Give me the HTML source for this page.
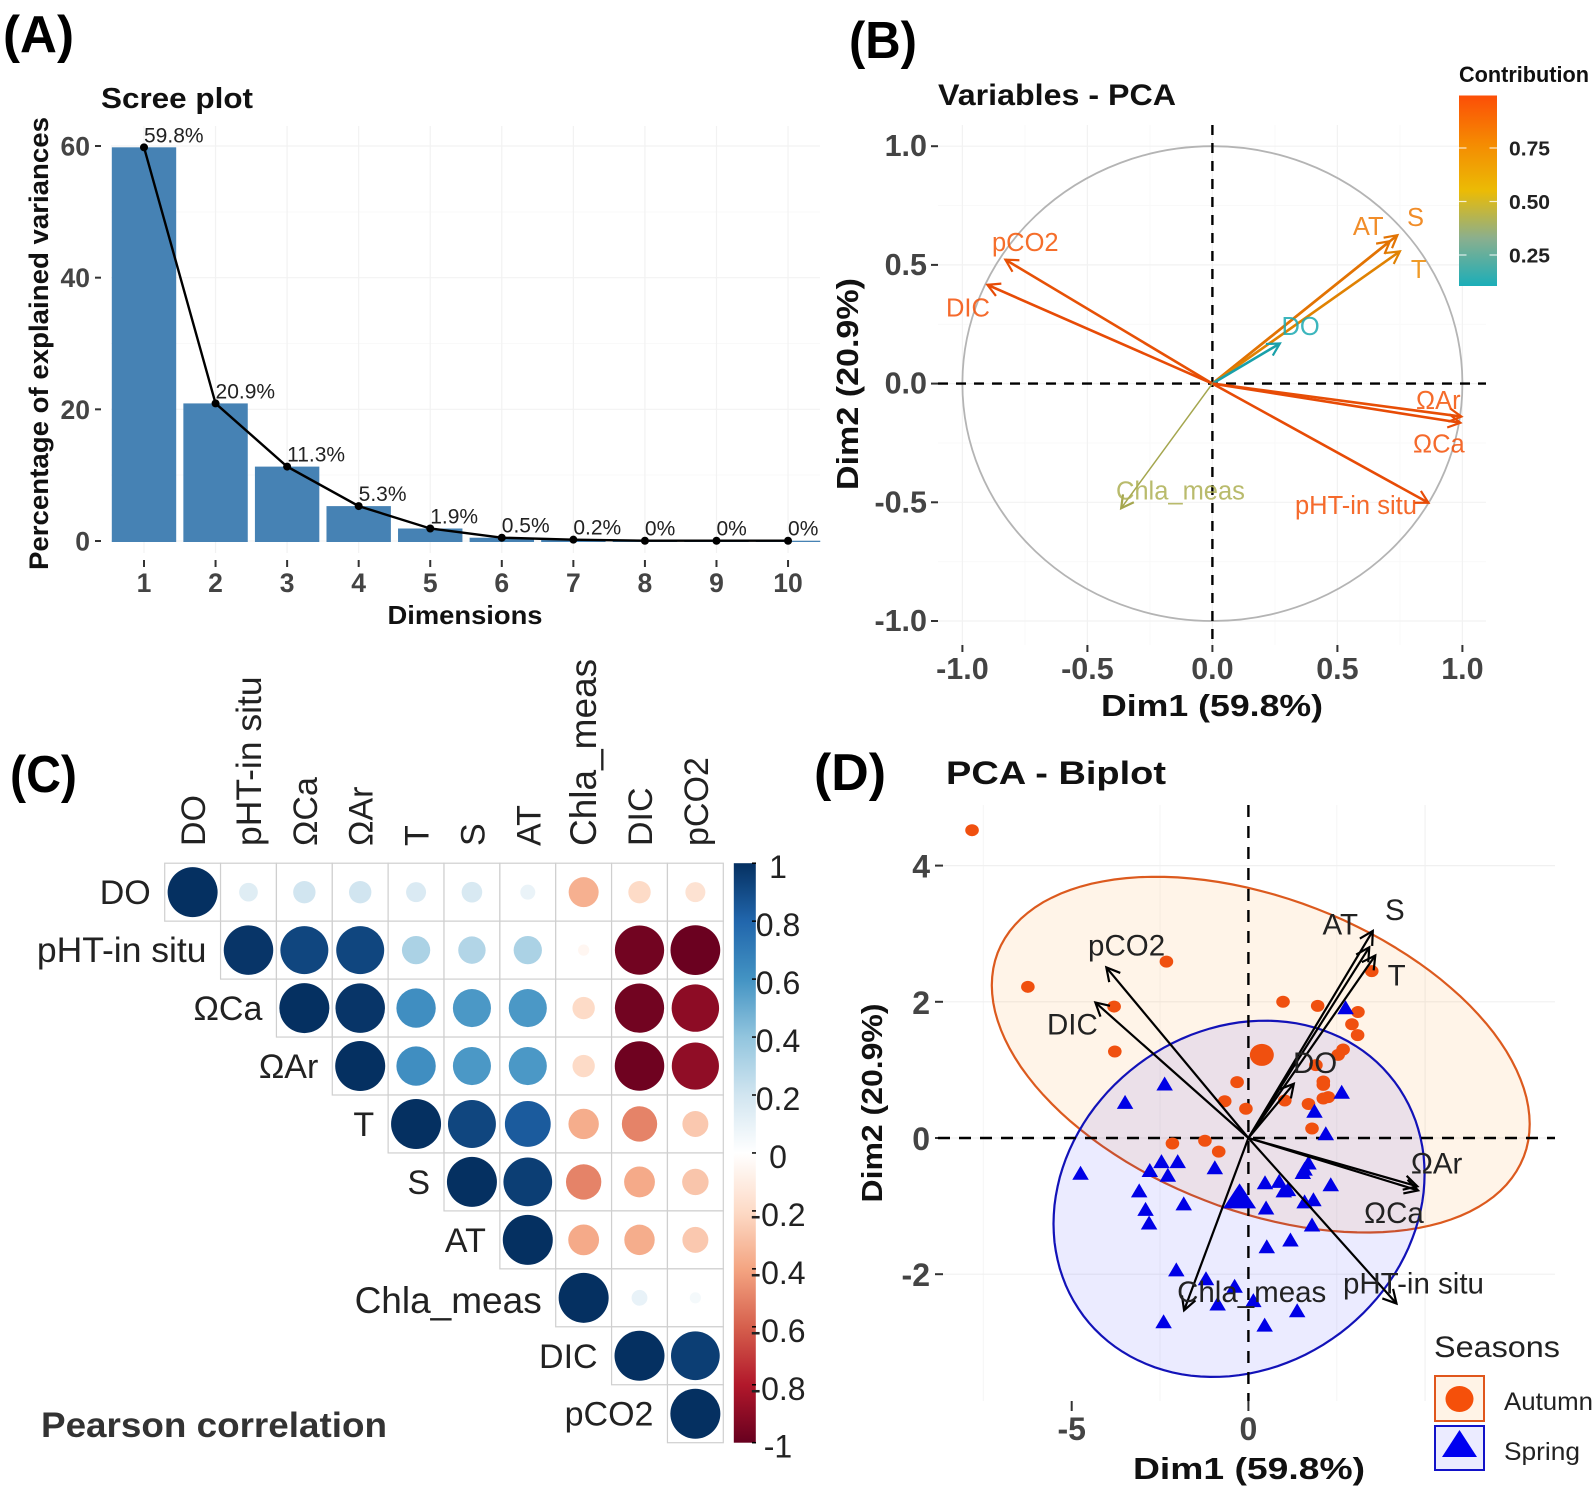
<!DOCTYPE html>
<html lang="en">
<head>
<meta charset="utf-8">
<title>PCA and correlation panels</title>
<style>
html,body{margin:0;padding:0;background:#fff;}
svg{display:block;font-family:"Liberation Sans",sans-serif;}
</style>
</head>
<body>
<svg id="fig" xmlns="http://www.w3.org/2000/svg" width="1594" height="1490" viewBox="0 0 1594 1490">
<defs>
<linearGradient id="contrib-gradient" x1="0" y1="1" x2="0" y2="0">
<stop offset="0" stop-color="#1BAEB8"/><stop offset="0.25" stop-color="#8AAF8E"/><stop offset="0.5" stop-color="#EBBB05"/><stop offset="0.75" stop-color="#F58A02"/><stop offset="1" stop-color="#FC4E07"/>
</linearGradient>
<linearGradient id="corr-gradient" x1="0" y1="0" x2="0" y2="1"></linearGradient>
</defs>
<rect width="1594" height="1490" fill="#fff"/>
<g id="pa"></g>
<g id="pb"></g>
<g id="pc"></g>
<g id="pd"></g>

<text x="3" y="52" font-size="52" font-weight="700" fill="#000" textLength="71" lengthAdjust="spacingAndGlyphs">(A)</text>
<text x="101" y="108" font-size="29" font-weight="700" fill="#111" textLength="152" lengthAdjust="spacingAndGlyphs">Scree plot</text>
<text transform="translate(48 343.5) rotate(-90)" text-anchor="middle" font-size="27" font-weight="700" fill="#111" textLength="453" lengthAdjust="spacingAndGlyphs">Percentage of explained variances</text>
<text x="465" y="624" text-anchor="middle" font-size="26" font-weight="700" fill="#111" textLength="155" lengthAdjust="spacingAndGlyphs">Dimensions</text>

<text x="849" y="58" font-size="52" font-weight="700" fill="#000" textLength="68" lengthAdjust="spacingAndGlyphs">(B)</text>
<text x="938" y="105" font-size="30" font-weight="700" fill="#111" textLength="238" lengthAdjust="spacingAndGlyphs">Variables - PCA</text>
<text x="1212" y="716" text-anchor="middle" font-size="31" font-weight="700" fill="#111" textLength="222" lengthAdjust="spacingAndGlyphs">Dim1 (59.8%)</text>
<text transform="translate(858 384) rotate(-90)" text-anchor="middle" font-size="31" font-weight="700" fill="#111" textLength="212" lengthAdjust="spacingAndGlyphs">Dim2 (20.9%)</text>
<text x="1459" y="82" font-size="22" font-weight="700" fill="#111" textLength="130" lengthAdjust="spacingAndGlyphs">Contribution</text>

<text x="10" y="792" font-size="52" font-weight="700" fill="#000" textLength="67" lengthAdjust="spacingAndGlyphs">(C)</text>
<text x="41" y="1437" font-size="35" font-weight="700" fill="#333" textLength="346" lengthAdjust="spacingAndGlyphs">Pearson correlation</text>

<text x="814" y="790" font-size="52" font-weight="700" fill="#000" textLength="72" lengthAdjust="spacingAndGlyphs">(D)</text>
<text x="946" y="784" font-size="32" font-weight="700" fill="#111" textLength="220" lengthAdjust="spacingAndGlyphs">PCA - Biplot</text>
<text x="1249" y="1479" text-anchor="middle" font-size="31" font-weight="700" fill="#111" textLength="232" lengthAdjust="spacingAndGlyphs">Dim1 (59.8%)</text>
<text transform="translate(882 1103) rotate(-90)" text-anchor="middle" font-size="29" font-weight="700" fill="#111" textLength="199" lengthAdjust="spacingAndGlyphs">Dim2 (20.9%)</text>

<text x="1434" y="1357" font-size="30" fill="#222" textLength="126" lengthAdjust="spacingAndGlyphs">Seasons</text>
<rect x="1435" y="1376" width="49" height="45" fill="#FFF3E6" stroke="#E0561C" stroke-width="2"/>
<ellipse cx="1459.5" cy="1399" rx="14" ry="13" fill="#F5500A"/>
<text x="1504" y="1410" font-size="25" fill="#222" textLength="89" lengthAdjust="spacingAndGlyphs">Autumn</text>
<rect x="1435" y="1426" width="49" height="44" fill="#EBEBFF" stroke="#1212C8" stroke-width="2"/>
<polygon points="1459.5,1430 1477,1457 1442,1457" fill="#0000F0"/>
<text x="1504" y="1460" font-size="25" fill="#222" textLength="76" lengthAdjust="spacingAndGlyphs">Spring</text>
</svg>

<script>
/* ---------- Scree data ---------- */
const screeDims = [1, 2, 3, 4, 5, 6, 7, 8, 9, 10];
const screeValues = [59.8, 20.9, 11.3, 5.3, 1.9, 0.5, 0.2, 0.04, 0.04, 0.04];
const screeLabels = ['59.8%', '20.9%', '11.3%', '5.3%', '1.9%', '0.5%', '0.2%', '0%', '0%', '0%'];
const screeYTicks = [0, 20, 40, 60];

/* ---------- Variables PCA data ---------- */
const varNames = ['pCO2', 'DIC', 'S', 'AT', 'T', 'DO', 'ΩAr', 'ΩCa', 'pHT-in situ', 'Chla_meas'];
const varDim1 = [-0.828, -0.90, 0.74, 0.71, 0.75, 0.27, 0.996, 0.992, 0.864, -0.365];
const varDim2 = [0.522, 0.416, 0.625, 0.60, 0.557, 0.169, -0.139, -0.165, -0.502, -0.525];
const varContrib = [0.96, 0.98, 0.82, 0.82, 0.76, 0.10, 0.97, 0.98, 0.98, 0.42];
const varTicks = [-1, -0.5, 0, 0.5, 1];
const varTickLabels = ['-1.0', '-0.5', '0.0', '0.5', '1.0'];
const contribTicks = [0.25, 0.5, 0.75];
const contribTickLabels = ['0.25', '0.50', '0.75'];

/* ---------- Correlation data (upper triangle by row) ---------- */
const corrNames = ['DO', 'pHT-in situ', 'ΩCa', 'ΩAr', 'T', 'S', 'AT', 'Chla_meas', 'DIC', 'pCO2'];
const corrDO = [1, 0.14, 0.2, 0.2, 0.16, 0.17, 0.09, -0.36, -0.2, -0.16];
const corrPHT = [0.98, 0.92, 0.92, 0.32, 0.3, 0.32, -0.05, -0.97, -0.99];
const corrCa = [1, 0.98, 0.62, 0.58, 0.58, -0.2, -0.97, -0.9];
const corrAr = [1, 0.62, 0.58, 0.58, -0.2, -0.98, -0.89];
const corrT = [1, 0.92, 0.84, -0.37, -0.5, -0.27];
const corrS = [1, 0.95, -0.5, -0.38, -0.28];
const corrAT = [1, -0.38, -0.37, -0.27];
const corrChla = [1, 0.1, 0.05];
const corrDIC = [1, 0.95];
const corrPCO2 = [1];
const corrRows = [corrDO, corrPHT, corrCa, corrAr, corrT, corrS, corrAT, corrChla, corrDIC, corrPCO2];
const corrPalette = ['#67001F', '#B2182B', '#D6604D', '#F4A582', '#FDDBC7', '#FFFFFF', '#D1E5F0', '#92C5DE', '#4393C3', '#2166AC', '#053061'];
const corrLegendTicks = [1, 0.8, 0.6, 0.4, 0.2, 0, -0.2, -0.4, -0.6, -0.8, -1];
const corrLegendLabels = ['1', '0.8', '0.6', '0.4', '0.2', '0', '-0.2', '-0.4', '-0.6', '-0.8', '-1'];

/* ---------- Biplot data ---------- */
const autumnX = [-7.82, -6.24, -2.32, -3.80, -3.78, 0.98, 1.96, 3.10, 2.93, 3.09, 3.49, 2.68, 2.54, 2.12, 2.12, 2.26, 1.70, 1.03, -0.32, -0.67, -0.07, 1.80, -2.15, -1.23, -0.84, 1.91, 2.12];
const autumnY = [4.52, 2.22, 2.59, 1.93, 1.27, 2.00, 1.94, 1.85, 1.67, 1.51, 2.45, 1.30, 1.22, 0.83, 0.58, 0.60, 0.50, 0.55, 0.82, 0.54, 0.43, 0.14, -0.08, -0.04, -0.20, 1.07, 0.78];
const springX = [2.75, -2.37, -3.49, 2.64, 1.87, 2.19, -4.75, -2.46, -2.0, -2.79, -2.28, -0.95, 1.70, 1.59, 1.54, 0.47, 0.87, 1.0, 1.12, 2.33, 1.84, 1.59, -3.09, -1.83, -2.91, -2.81, 0.50, 1.80, 0.52, 1.19, -2.04, -1.20, -0.39, -0.87, 0.14, 1.38, -2.40, 0.46];
const springY = [1.92, 0.80, 0.53, 0.68, 0.40, 0.07, -0.51, -0.34, -0.34, -0.47, -0.54, -0.43, -0.36, -0.45, -0.50, -0.65, -0.63, -0.77, -0.75, -0.68, -0.90, -0.93, -0.77, -0.96, -1.04, -1.24, -1.02, -1.27, -1.59, -1.49, -1.93, -2.06, -2.17, -2.43, -2.38, -2.53, -2.69, -2.74];
const autumnMean = [0.38, 1.22];
const springMean = [-0.25, -0.85];
const autumnEllipse = [0.35, 1.224, 7.61, 2.612, -0.39];
const springEllipse = [-0.265, -0.893, 5.25, 2.616, 0.14];
const biNames = ['pCO2', 'DIC', 'S', 'AT', 'T', 'DO', 'ΩAr', 'ΩCa', 'pHT-in situ', 'Chla_meas'];
const biDim1 = [-4.02, -4.33, 3.52, 3.42, 3.59, 1.285, 4.78, 4.80, 4.19, -1.82];
const biDim2 = [2.505, 1.99, 3.04, 2.80, 2.68, 0.797, -0.71, -0.77, -2.43, -2.53];
const biXTicks = [-5, 0];
const biYTicks = [-2, 0, 2, 4];

/* ---------- Helpers ---------- */
const NS = 'http://www.w3.org/2000/svg';
function mk(parent, tag, attrs, text) {
  const el = document.createElementNS(NS, tag);
  for (const k in attrs) el.setAttribute(k, attrs[k]);
  if (text !== undefined) el.textContent = text;
  parent.appendChild(el);
  return el;
}
function slug(s) {
  return s.toLowerCase().replace('ω', 'omega-').replace(/[^a-z0-9]+/g, '-');
}
function arrowHead(x1, y1, x2, y2, len) {
  const a = Math.atan2(y2 - y1, x2 - x1);
  const p1 = [x2 - len * Math.cos(a - 0.5), y2 - len * Math.sin(a - 0.5)];
  const p2 = [x2 - len * Math.cos(a + 0.5), y2 - len * Math.sin(a + 0.5)];
  return 'M' + p1[0] + ' ' + p1[1] + 'L' + x2 + ' ' + y2 + 'L' + p2[0] + ' ' + p2[1];
}

/* ---------- Panel A: scree ---------- */
(function () {
  const g = document.getElementById('pa');
  const xA = d => 144 + (d - 1) * 71.56;
  const yA = v => 541 - v * (395 / 60);
  const barW = 64.4;
  [10, 30, 50].forEach(v => {
    const l = mk(g, 'line', { x1: 111, x2: 820, y1: yA(v), y2: yA(v), stroke: '#f9f9f9', 'stroke-width': 1 });
    
    
  });
  screeYTicks.forEach(v => {
    const l = mk(g, 'line', { x1: 111, x2: 820, y1: yA(v), y2: yA(v), stroke: '#f2f2f2', 'stroke-width': 1.2 });
    
    
    const t = mk(g, 'line', { x1: 95, x2: 101, y1: yA(v), y2: yA(v), stroke: '#333', 'stroke-width': 2 });
    
    
    const lab = mk(g, 'text', { x: 90, y: yA(v) + 9.5, 'text-anchor': 'end', 'font-size': 26.5, 'font-weight': 700, fill: '#444' }, String(v));
    
    
  });
  screeDims.forEach(d => {
    const l = mk(g, 'line', { x1: xA(d), x2: xA(d), y1: 126, y2: 553, stroke: '#f2f2f2', 'stroke-width': 1.2 });
    
    
  });
  screeValues.forEach((v, i) => {
    const b = mk(g, 'rect', { x: xA(screeDims[i]) - barW / 2, y: yA(v), width: barW, height: 541 - yA(v) + 1, fill: '#4682B4' });
    
    
  });
  const pts = screeValues.map((v, i) => xA(screeDims[i]) + ',' + yA(v)).join(' ');
  const line = mk(g, 'polyline', { points: pts, fill: 'none', stroke: '#000', 'stroke-width': 2.4 });
  
  
  screeValues.forEach((v, i) => {
    const c = mk(g, 'circle', { cx: xA(screeDims[i]), cy: yA(v), r: 4, fill: '#000' });
    
    
    const lab = mk(g, 'text', { x: xA(screeDims[i]), y: yA(v) - 5, 'font-size': 21, fill: '#222' }, screeLabels[i]);
    
    
    const t = mk(g, 'line', { x1: xA(screeDims[i]), x2: xA(screeDims[i]), y1: 560, y2: 567, stroke: '#333', 'stroke-width': 2 });
    
    
    const xl = mk(g, 'text', { x: xA(screeDims[i]), y: 592, 'text-anchor': 'middle', 'font-size': 26.5, 'font-weight': 700, fill: '#444' }, String(screeDims[i]));
    
    
  });
})();

/* ---------- Panel B: variables ---------- */
(function () {
  const g = document.getElementById('pb');
  const xB = v => 1212.4 + v * 250;
  const yB = v => 383.6 - v * 237.4;
  function lerpColor(t) {
    const stops = [[27, 174, 184], [138, 175, 142], [235, 187, 5], [245, 138, 2], [252, 78, 7]];
    const low = 0.105, high = 0.996;
    const p = Math.max(0, Math.min(0.9999, (t - low) / (high - low))) * (stops.length - 1);
    const i = Math.floor(p), f = p - i;
    return stops[i].map((c, k) => Math.round(c + (stops[i + 1][k] - c) * f));
  }
  const css = (c, m) => 'rgb(' + c.map(v => Math.round(v * m)).join(',') + ')';
  [-0.75, -0.25, 0.25, 0.75].forEach(v => {
    const h = mk(g, 'line', { x1: 938, x2: 1486, y1: yB(v), y2: yB(v), stroke: '#f9f9f9', 'stroke-width': 1 });
    
    
    const w = mk(g, 'line', { x1: xB(v), x2: xB(v), y1: 125, y2: 645, stroke: '#f9f9f9', 'stroke-width': 1 });
    
    
  });
  varTicks.forEach((v, i) => {
    const h = mk(g, 'line', { x1: 938, x2: 1486, y1: yB(v), y2: yB(v), stroke: '#f2f2f2', 'stroke-width': 1.2 });
    
    
    const w = mk(g, 'line', { x1: xB(v), x2: xB(v), y1: 125, y2: 645, stroke: '#f2f2f2', 'stroke-width': 1.2 });
    
    
    const yt = mk(g, 'line', { x1: 931, x2: 938, y1: yB(v), y2: yB(v), stroke: '#333', 'stroke-width': 2 });
    
    
    const xt = mk(g, 'line', { x1: xB(v), x2: xB(v), y1: 645, y2: 652, stroke: '#333', 'stroke-width': 2 });
    
    
    const yl = mk(g, 'text', { x: 927, y: yB(v) + 10, 'text-anchor': 'end', 'font-size': 30.5, 'font-weight': 700, fill: '#444' }, varTickLabels[i]);
    
    
    const xl = mk(g, 'text', { x: xB(v), y: 679, 'text-anchor': 'middle', 'font-size': 30.5, 'font-weight': 700, fill: '#444' }, varTickLabels[i]);
    
    
  });
  const circle = mk(g, 'ellipse', { cx: xB(0), cy: yB(0), rx: 250, ry: 237.4, fill: 'none', stroke: '#b4b4b4', 'stroke-width': 1.8 });
  
  
  const dh = mk(g, 'line', { x1: 938, x2: 1486, y1: yB(0), y2: yB(0), stroke: '#000', 'stroke-width': 2.4, 'stroke-dasharray': '10 8' });
  
  
  const dv = mk(g, 'line', { x1: xB(0), x2: xB(0), y1: 125, y2: 645, stroke: '#000', 'stroke-width': 2.4, 'stroke-dasharray': '10 8' });
  
  
  const nudge = { 'pCO2': [-13.4, -8.7], 'DIC': [-41.4, 31.8], 'S': [9.6, -9.2], 'AT': [-37, -6], 'T': [11, 26.6], 'DO': [1.6, -8.5], 'ΩAr': [-45.4, -7.6], 'ΩCa': [-47.4, 29.7], 'pHT-in situ': [-133.4, 11.2], 'Chla_meas': [-5.2, -8.7] };
  varNames.forEach((n, i) => {
    const base = lerpColor(varContrib[i]);
    const col = css(base, 0.92);
    const x2 = xB(varDim1[i]), y2 = yB(varDim2[i]);
    const s = mk(g, 'line', { x1: xB(0), y1: yB(0), x2: x2, y2: y2, stroke: col, 'stroke-width': n === 'Chla_meas' ? 1.5 : 2.6 });
    
    
    const h = mk(g, 'path', { d: arrowHead(xB(0), yB(0), x2, y2, 14), fill: 'none', stroke: col, 'stroke-width': 2.2 });
    
    
    const nd = nudge[n];
    const t = mk(g, 'text', { x: x2 + nd[0], y: y2 + nd[1], 'font-size': 25.5, fill: css(base, 0.97), 'fill-opacity': 0.85 }, n);
    
    
  });
  const bar = mk(g, 'rect', { x: 1459, y: 95.5, width: 38, height: 190.5, fill: 'url(#contrib-gradient)' });
  
  
  const yC = v => 255 - (v - 0.25) * 214;
  contribTicks.forEach((v, i) => {
    const a = mk(g, 'line', { x1: 1459, x2: 1466.5, y1: yC(v), y2: yC(v), stroke: '#fff', 'stroke-width': 1.2, 'stroke-opacity': 0.8 });
    
    
    const b = mk(g, 'line', { x1: 1489.5, x2: 1497, y1: yC(v), y2: yC(v), stroke: '#fff', 'stroke-width': 1.2, 'stroke-opacity': 0.8 });
    
    
    const t = mk(g, 'text', { x: 1509, y: yC(v) + 7.5, 'font-size': 20, 'font-weight': 700, fill: '#222', textLength: 41, lengthAdjust: 'spacingAndGlyphs' }, contribTickLabels[i]);
    
    
  });
})();

/* ---------- Panel C: correlation ---------- */
(function () {
  const g = document.getElementById('pc');
  const grad = document.getElementById('corr-gradient');
  const palette = corrPalette;
  [...palette].reverse().forEach((c, i) => {
    mk(grad, 'stop', { offset: i / (palette.length - 1), 'stop-color': c });
  });
  const cellW = 55.86, cellH = 57.95, left = 164.7, top = 863.2;
  const cx = j => left + (j + 0.5) * cellW;
  const cy = i => top + (i + 0.5) * cellH;
  const rScale = r => 25 * Math.sqrt(Math.abs(r));
  function colorOf(r) {
    const p = (r + 1) / 2 * (palette.length - 1);
    const i = Math.min(palette.length - 2, Math.floor(p));
    const f = p - i;
    const hex = h => [1, 3, 5].map(k => parseInt(h.substr(k, 2), 16));
    const a = hex(palette[i]), b = hex(palette[i + 1]);
    return 'rgb(' + a.map((c, k) => Math.round(c + (b[k] - c) * f)).join(',') + ')';
  }
  corrRows.forEach((row, i) => {
    row.forEach((r, k) => {
      const j = i + k;
      const cell = mk(g, 'rect', { x: left + j * cellW, y: top + i * cellH, width: cellW, height: cellH, fill: '#fff', stroke: '#cfcfcf', 'stroke-width': 1.2 });
      
      
    });
  });
  corrRows.forEach((row, i) => {
    row.forEach((r, k) => {
      const j = i + k;
      const c = mk(g, 'circle', { cx: cx(j), cy: cy(i), r: rScale(r), fill: colorOf(r) });
      
      
    });
  });
  corrNames.forEach((n, i) => {
    const size = n === 'Chla_meas' ? 37 : (n === 'pHT-in situ' ? 35.5 : 34);
    const rl = mk(g, 'text', { x: left + i * cellW - 14, y: cy(i) + 12 + (n === 'Chla_meas' ? 3 : 0), 'text-anchor': 'end', 'font-size': size, fill: '#222' }, n);
    
    
    const cl = mk(g, 'text', { transform: 'translate(' + (cx(i) + 12.5) + ' 846) rotate(-90)', 'font-size': size, fill: '#222' }, n);
    
    
  });
  const bar = mk(g, 'rect', { x: 733.8, y: top, width: 22, height: 579.5, fill: 'url(#corr-gradient)' });
  
  
  const yL = v => top + (1 - v) / 2 * 579.5;
  corrLegendTicks.forEach((v, i) => {
    const t = mk(g, 'line', { x1: 752, x2: 756, y1: yL(v), y2: yL(v), stroke: '#000', 'stroke-width': 1.5 });
    
    
    const lab = mk(g, 'text', { x: 778, y: yL(v) + 15, 'text-anchor': 'middle', 'font-size': 32, fill: '#222' }, corrLegendLabels[i]);
    
    
  });
})();

/* ---------- Panel D: biplot ---------- */
(function () {
  const g = document.getElementById('pd');
  const xD = v => 1248.4 + v * 35.34;
  const yD = v => 1138 - v * 68.1;
  [-7.5, -2.5, 2.5, 5].forEach(v => {
    const l = mk(g, 'line', { x1: xD(v), x2: xD(v), y1: 805, y2: 1401, stroke: v === 5 ? '#f0f0f0' : '#f6f6f6', 'stroke-width': 1.1 });
    
    
  });
  biYTicks.forEach(v => {
    const l = mk(g, 'line', { x1: 943, x2: 1555, y1: yD(v), y2: yD(v), stroke: '#f0f0f0', 'stroke-width': 1.2 });
    
    
    const t = mk(g, 'line', { x1: 935, x2: 943, y1: yD(v), y2: yD(v), stroke: '#333', 'stroke-width': 2 });
    
    
    const lab = mk(g, 'text', { x: 930, y: yD(v) + 12, 'text-anchor': 'end', 'font-size': 32, 'font-weight': 700, fill: '#444' }, String(v));
    
    
  });
  biXTicks.forEach(v => {
    const t = mk(g, 'line', { x1: xD(v), x2: xD(v), y1: 1401, y2: 1411, stroke: '#333', 'stroke-width': 2 });
    
    
    const lab = mk(g, 'text', { x: xD(v), y: 1440, 'text-anchor': 'middle', 'font-size': 32, 'font-weight': 700, fill: '#444' }, String(v));
    
    
  });
  function ellipsePath(e) {
    let d = '';
    const s = Math.sqrt(1 - e[4] * e[4]);
    for (let k = 0; k <= 120; k++) {
      const t = k / 120 * 2 * Math.PI;
      const px = e[0] + e[2] * Math.cos(t);
      const py = e[1] + e[3] * (e[4] * Math.cos(t) + s * Math.sin(t));
      d += (k ? 'L' : 'M') + xD(px).toFixed(1) + ' ' + yD(py).toFixed(1);
    }
    return d + 'Z';
  }
  const ea = mk(g, 'path', { d: ellipsePath(autumnEllipse), fill: '#FF9E30', 'fill-opacity': 0.11, stroke: '#DC5A1E', 'stroke-width': 2.2 });
  
  
  const es = mk(g, 'path', { d: ellipsePath(springEllipse), fill: '#0000FF', 'fill-opacity': 0.08, stroke: '#1212B8', 'stroke-width': 2.2 });
  
  
  const dh = mk(g, 'line', { x1: 938, x2: 1555, y1: yD(0), y2: yD(0), stroke: '#000', 'stroke-width': 2.4, 'stroke-dasharray': '12 9' });
  
  
  const dv = mk(g, 'line', { x1: xD(0), x2: xD(0), y1: 805, y2: 1401, stroke: '#000', 'stroke-width': 2.4, 'stroke-dasharray': '12 9' });
  
  
  autumnX.forEach((x, i) => {
    const c = mk(g, 'ellipse', { cx: xD(x), cy: yD(autumnY[i]), rx: 6.8, ry: 6, fill: '#F0500F' });
    
    
  });
  const am = mk(g, 'ellipse', { cx: xD(autumnMean[0]), cy: yD(autumnMean[1]), rx: 12, ry: 11, fill: '#F0500F' });
  
  
  function tri(x, y, w, h) {
    return x + ',' + (y - h / 2) + ' ' + (x + w / 2) + ',' + (y + h / 2) + ' ' + (x - w / 2) + ',' + (y + h / 2);
  }
  springX.forEach((x, i) => {
    const p = mk(g, 'polygon', { points: tri(xD(x), yD(springY[i]), 16.5, 14), fill: '#0000E6' });
    
    
  });
  const sm = mk(g, 'polygon', { points: tri(xD(springMean[0]), yD(springMean[1]), 33, 25), fill: '#0000E6' });
  
  
  const nudge = { 'pCO2': [-18.3, -12], 'DIC': [-48.4, 31.9], 'S': [12.2, -11], 'AT': [-46.8, -12.7], 'T': [12.3, 30], 'DO': [-0.8, -10.7], 'ΩAr': [-6.5, -12.9], 'ΩCa': [-54, 32.6], 'pHT-in situ': [-53.5, -9.8], 'Chla_meas': [-7, -8.3] };
  biNames.forEach((n, i) => {
    const x2 = xD(biDim1[i]), y2 = yD(biDim2[i]);
    const l = mk(g, 'line', { x1: xD(0), y1: yD(0), x2: x2, y2: y2, stroke: '#000', 'stroke-width': 2.2 });
    
    
    const h = mk(g, 'path', { d: arrowHead(xD(0), yD(0), x2, y2, 15), fill: 'none', stroke: '#000', 'stroke-width': 2.2 });
    
    
    const nd = nudge[n];
    const t = mk(g, 'text', { x: x2 + nd[0], y: y2 + nd[1], 'font-size': 29.5, fill: '#222' }, n);
    
    
  });
})();
</script>
</body>
</html>
